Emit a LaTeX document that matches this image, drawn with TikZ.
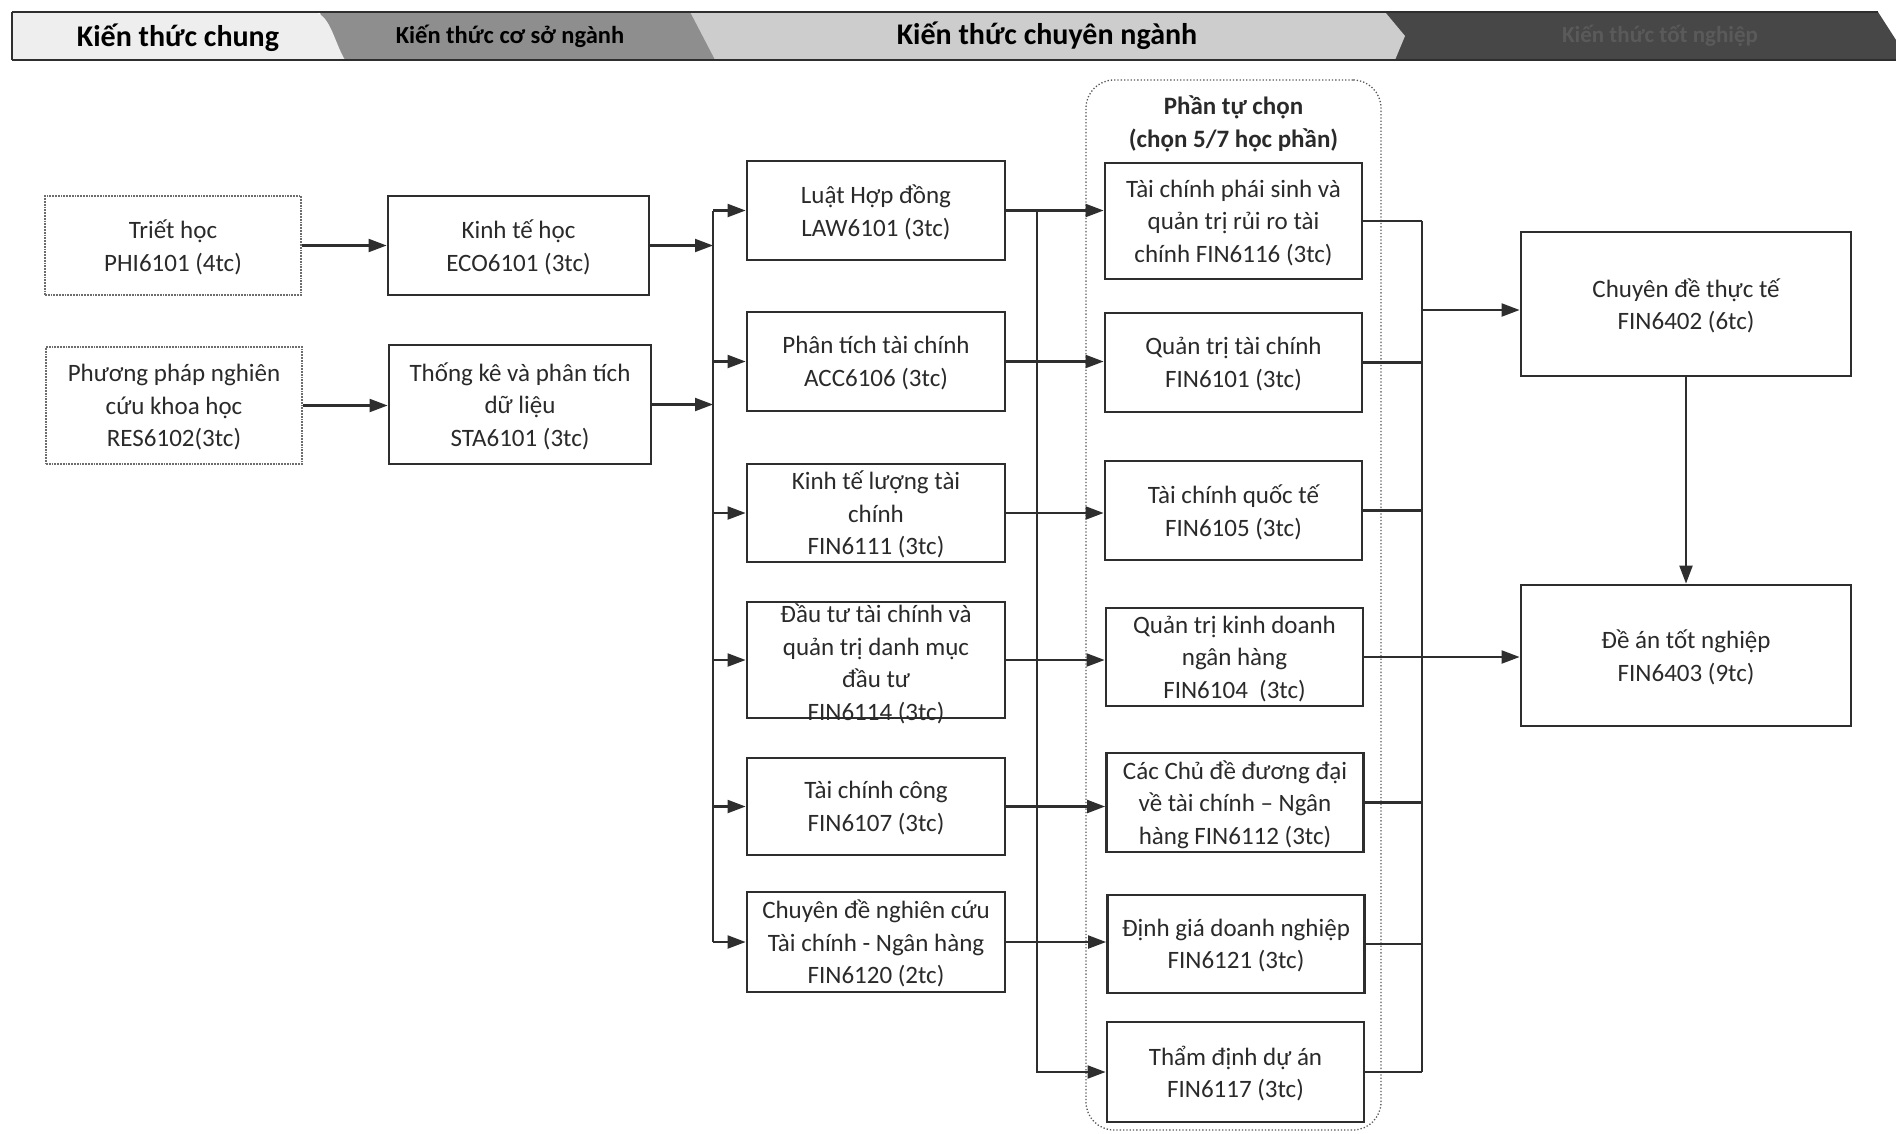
\documentclass[tikz,border=0pt]{standalone}
\usepackage{fontspec}
\setmainfont{Carlito}
\usetikzlibrary{arrows.meta,calc}
\definecolor{ink}{HTML}{2E2E2E}
\definecolor{txt}{HTML}{2A2A2A}
\definecolor{tabA}{HTML}{EEEEEE}
\definecolor{tabB}{HTML}{8E8E8E}
\definecolor{tabC}{HTML}{CDCDCD}
\definecolor{tabD}{HTML}{474747}
\definecolor{faint}{HTML}{5A5A5A}
\newcommand\boxfont{\fontsize{25}{32.5}\selectfont}
\tikzset{
  box/.style={draw=ink, line width=2.8pt, fill=white, align=center, inner sep=0pt, text=txt, font=\boxfont, text depth=0pt},
  softbox/.style={box, draw=ink!70, line width=1.8pt, densely dotted},
  mid/.style={box, minimum width=258pt},
  elec/.style={box, minimum width=257pt},
  fin/.style={box, minimum width=330pt},
  group/.style={draw=ink!80, line width=1.3pt, dotted, rounded corners=28pt, inner sep=0pt},
  conn/.style={draw=ink, line width=2.1pt},
  arr/.style={-{Triangle[length=18pt,width=13pt]}},
  tabtext/.style={font=\bfseries\fontsize{30}{34}\selectfont, text=black, inner sep=0pt},
}
\begin{document}
\begin{tikzpicture}[x=1pt,y=-1pt]
\useasboundingbox (0,0) rectangle (1896,1133);

% ---- header band ----
\fill[tabD] (1380,12) -- (1878,12) -- (1896,40) -- (1896,60) -- (1380,60) -- cycle;
\fill[tabC] (690,12) -- (1385,12) -- (1405,36) -- (1395,60) -- (700,60) -- cycle;
\fill[tabB] (320,12) -- (690,12) -- (715,60) -- (330,60) -- cycle;
\fill[tabA] (12,12) -- (312,12) .. controls (330,12) and (334,42) .. (345,60) -- (12,60) -- cycle;
\draw[ink, line width=1.6pt] (12,12) -- (1878,12);
\draw[ink, line width=1.6pt] (12,60) -- (1896,60);
\draw[ink, line width=1.6pt] (12,12) -- (12,60);
\node[tabtext] (h1) at (178,38) {Kiến thức chung};
\node[tabtext, font=\bfseries\fontsize{24.5}{28}\selectfont] (h2) at (510,36) {Kiến thức cơ sở ngành};
\node[tabtext] (h3) at (1047,36) {Kiến thức chuyên ngành};
\node[tabtext, text=faint, font=\bfseries\fontsize{23}{28}\selectfont] (h4) at (1660,36) {Kiến thức tốt nghiệp};

% ---- elective group ----
\node[group, minimum width=295pt, minimum height=1050pt] (grp) at (1233.5,605) {};
\node[font=\bfseries\fontsize{25}{33}\selectfont, text=txt, align=center, inner sep=0pt] (grpt) at (1233.5,124) {Phần tự chọn\\(chọn 5/7 học phần)};

% ---- left column ----
\node[softbox, minimum width=256pt, minimum height=99pt] (trh) at (173,245.5) {Triết học\\PHI6101 (4tc)};
\node[softbox, minimum width=256pt, minimum height=117pt] (ppn) at (174,405.5) {Phương pháp nghiên\\cứu khoa học\\RES6102(3tc)};
\node[box, minimum width=261pt, minimum height=99pt] (kth) at (518.5,245.5) {Kinh tế học\\ECO6101 (3tc)};
\node[box, minimum width=262pt, minimum height=119pt] (tk) at (520,404.5) {Thống kê và phân tích\\dữ liệu\\STA6101 (3tc)};

% ---- middle column ----
\node[mid, minimum height=99pt] (luat) at (876,210.5) {Luật Hợp đồng\\LAW6101 (3tc)};
\node[mid, minimum height=99pt] (ptc) at (876,361.5) {Phân tích tài chính\\ACC6106 (3tc)};
\node[mid, minimum height=98pt] (ktl) at (876,513) {Kinh tế lượng tài\\chính\\FIN6111 (3tc)};
\node[mid, minimum height=116pt] (dt) at (876,660) {};
\node[align=center, inner sep=0pt, text=txt, font=\boxfont] (dtt) at (876,664) {Đầu tư tài chính và\\quản trị danh mục\\đầu tư\\FIN6114 (3tc)};
\node[mid, minimum height=97pt] (tcc) at (876,806.5) {Tài chính công\\FIN6107 (3tc)};
\node[mid, minimum height=100pt] (cdnc) at (876,942) {Chuyên đề nghiên cứu\\Tài chính - Ngân hàng\\FIN6120 (2tc)};

% ---- electives ----
\node[elec, minimum height=116pt] (ps) at (1233.5,221) {Tài chính phái sinh và\\quản trị rủi ro tài\\chính FIN6116 (3tc)};
\node[elec, minimum height=99pt] (qt) at (1233.5,362.5) {Quản trị tài chính\\FIN6101 (3tc)};
\node[elec, minimum height=99pt] (qte) at (1233.5,510.5) {Tài chính quốc tế\\FIN6105 (3tc)};
\node[elec, minimum height=98pt] (kd) at (1234.5,657) {Quản trị kinh doanh\\ngân hàng\\FIN6104 \ (3tc)};
\node[elec, minimum height=99pt] (ccd) at (1235,802.5) {Các Chủ đề đương đại\\về tài chính – Ngân\\hàng FIN6112 (3tc)};
\node[elec, minimum height=98pt] (dg) at (1236,944) {Định giá doanh nghiệp\\FIN6121 (3tc)};
\node[elec, minimum height=100pt] (td) at (1235.5,1072) {Thẩm định dự án\\FIN6117 (3tc)};

% ---- final ----
\node[fin, minimum height=144pt] (cdtt) at (1686,304) {Chuyên đề thực tế\\FIN6402 (6tc)};
\node[fin, minimum height=141pt] (da) at (1686,655.5) {Đề án tốt nghiệp\\FIN6403 (9tc)};

% ---- bus coordinates ----
\coordinate (b1) at (713,0);
\coordinate (b2) at (1037,0);
\coordinate (b3) at (1422,0);

% ---- connectors ----
\draw[conn,arr] (trh.east) -- (kth.west);
\draw[conn,arr] (ppn.east) -- (ppn.east -| tk.west);
\draw[conn,arr] (kth.east) -- (kth.east -| b1);
\draw[conn,arr] (tk.east) -- (tk.east -| b1);
\draw[conn] (b1 |- luat.west) -- (b1 |- cdnc.west);
\foreach \n in {luat,ptc,ktl,dt,tcc,cdnc}
  \draw[conn,arr] (b1 |- \n.west) -- (\n.west);

\draw[conn,arr] (luat.east) -- (luat.east -| ps.west);
\draw[conn,arr] (ptc.east) -- (ptc.east -| qt.west);
\draw[conn,arr] (ktl.east) -- (ktl.east -| qte.west);
\draw[conn,arr] (dt.east) -- (dt.east -| kd.west);
\draw[conn,arr] (tcc.east) -- (tcc.east -| ccd.west);
\draw[conn,arr] (cdnc.east) -- (cdnc.east -| dg.west);
\draw[conn,arr] (luat.east -| b2) -- (b2 |- td.west) -- (td.west);

\draw[conn] (ps.east -| b3) -- (td.east -| b3);
\foreach \n in {ps,qt,qte,ccd,dg,td}
  \draw[conn] (\n.east) -- (\n.east -| b3);
\draw[conn,arr] (kd.east) -- (kd.east -| da.west);
\draw[conn,arr] ($(b3 |- cdtt.west)+(0,6)$) -- ($(cdtt.west)+(0,6)$);
\draw[conn,arr] (cdtt.south) -- (da.north);
\end{tikzpicture}
\end{document}
